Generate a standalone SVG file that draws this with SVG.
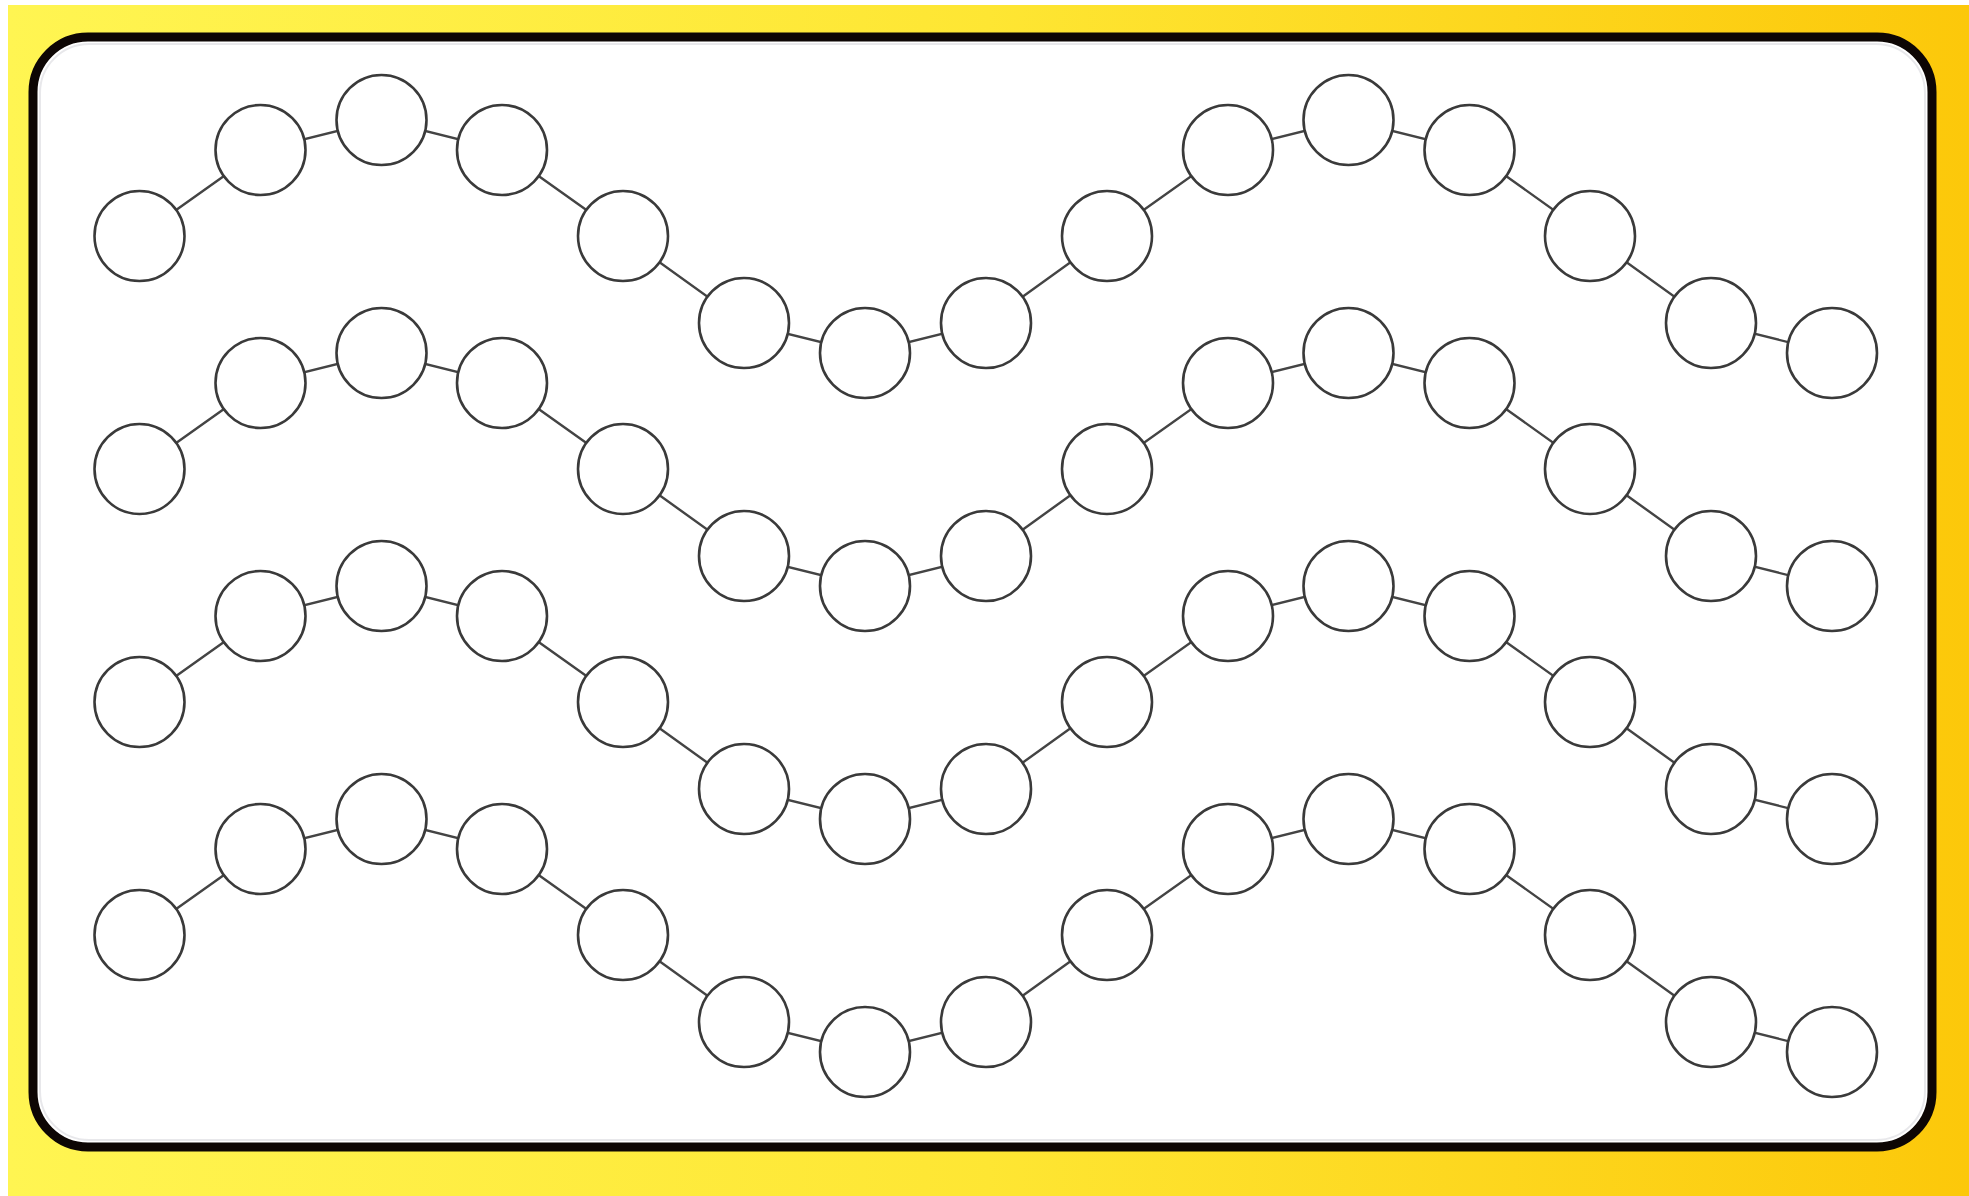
<svg xmlns="http://www.w3.org/2000/svg" width="1969" height="1196" viewBox="0 0 1969 1196">
<defs>
<linearGradient id="bg" x1="0" y1="0" x2="1" y2="0">
<stop offset="0" stop-color="#FFF552"/>
<stop offset="0.5" stop-color="#FEE633"/>
<stop offset="1" stop-color="#FCC80A"/>
</linearGradient>
</defs>
<style>
.n{fill:#fff;stroke:#3a3a3a;stroke-width:2.6}
.c{stroke:#444;stroke-width:2.4;fill:none}
</style>
<rect x="0" y="0" width="1969" height="1196" fill="#fff"/>
<rect x="8" y="5" width="1961" height="1191" fill="url(#bg)"/>
<rect x="33" y="37" width="1899" height="1110" rx="55" ry="55" fill="#fff" stroke="#0d0604" stroke-width="9"/>
<rect x="40" y="44" width="1885" height="1096" rx="49" ry="49" fill="none" stroke="#d8d8de" stroke-width="2" opacity="0.6"/>
<g id="connectors">
<polyline class="c" points="139.5,236 260.5,150 381.5,120 502,150 623,236 744,323 865,353 986,323 1107,236 1228,150 1348.5,120 1469.5,150 1590,236 1711,323 1832,353"/>
<polyline class="c" points="139.5,469 260.5,383 381.5,353 502,383 623,469 744,556 865,586 986,556 1107,469 1228,383 1348.5,353 1469.5,383 1590,469 1711,556 1832,586"/>
<polyline class="c" points="139.5,702 260.5,616 381.5,586 502,616 623,702 744,789 865,819 986,789 1107,702 1228,616 1348.5,586 1469.5,616 1590,702 1711,789 1832,819"/>
<polyline class="c" points="139.5,935 260.5,849 381.5,819 502,849 623,935 744,1022 865,1052 986,1022 1107,935 1228,849 1348.5,819 1469.5,849 1590,935 1711,1022 1832,1052"/>
</g>
<g id="row1">
<g id="n1-1"><circle class="n" cx="139.5" cy="236" r="45"/></g>
<g id="n1-2"><circle class="n" cx="260.5" cy="150" r="45"/></g>
<g id="n1-3"><circle class="n" cx="381.5" cy="120" r="45"/></g>
<g id="n1-4"><circle class="n" cx="502" cy="150" r="45"/></g>
<g id="n1-5"><circle class="n" cx="623" cy="236" r="45"/></g>
<g id="n1-6"><circle class="n" cx="744" cy="323" r="45"/></g>
<g id="n1-7"><circle class="n" cx="865" cy="353" r="45"/></g>
<g id="n1-8"><circle class="n" cx="986" cy="323" r="45"/></g>
<g id="n1-9"><circle class="n" cx="1107" cy="236" r="45"/></g>
<g id="n1-10"><circle class="n" cx="1228" cy="150" r="45"/></g>
<g id="n1-11"><circle class="n" cx="1348.5" cy="120" r="45"/></g>
<g id="n1-12"><circle class="n" cx="1469.5" cy="150" r="45"/></g>
<g id="n1-13"><circle class="n" cx="1590" cy="236" r="45"/></g>
<g id="n1-14"><circle class="n" cx="1711" cy="323" r="45"/></g>
<g id="n1-15"><circle class="n" cx="1832" cy="353" r="45"/></g>
</g>
<g id="row2">
<g id="n2-1"><circle class="n" cx="139.5" cy="469" r="45"/></g>
<g id="n2-2"><circle class="n" cx="260.5" cy="383" r="45"/></g>
<g id="n2-3"><circle class="n" cx="381.5" cy="353" r="45"/></g>
<g id="n2-4"><circle class="n" cx="502" cy="383" r="45"/></g>
<g id="n2-5"><circle class="n" cx="623" cy="469" r="45"/></g>
<g id="n2-6"><circle class="n" cx="744" cy="556" r="45"/></g>
<g id="n2-7"><circle class="n" cx="865" cy="586" r="45"/></g>
<g id="n2-8"><circle class="n" cx="986" cy="556" r="45"/></g>
<g id="n2-9"><circle class="n" cx="1107" cy="469" r="45"/></g>
<g id="n2-10"><circle class="n" cx="1228" cy="383" r="45"/></g>
<g id="n2-11"><circle class="n" cx="1348.5" cy="353" r="45"/></g>
<g id="n2-12"><circle class="n" cx="1469.5" cy="383" r="45"/></g>
<g id="n2-13"><circle class="n" cx="1590" cy="469" r="45"/></g>
<g id="n2-14"><circle class="n" cx="1711" cy="556" r="45"/></g>
<g id="n2-15"><circle class="n" cx="1832" cy="586" r="45"/></g>
</g>
<g id="row3">
<g id="n3-1"><circle class="n" cx="139.5" cy="702" r="45"/></g>
<g id="n3-2"><circle class="n" cx="260.5" cy="616" r="45"/></g>
<g id="n3-3"><circle class="n" cx="381.5" cy="586" r="45"/></g>
<g id="n3-4"><circle class="n" cx="502" cy="616" r="45"/></g>
<g id="n3-5"><circle class="n" cx="623" cy="702" r="45"/></g>
<g id="n3-6"><circle class="n" cx="744" cy="789" r="45"/></g>
<g id="n3-7"><circle class="n" cx="865" cy="819" r="45"/></g>
<g id="n3-8"><circle class="n" cx="986" cy="789" r="45"/></g>
<g id="n3-9"><circle class="n" cx="1107" cy="702" r="45"/></g>
<g id="n3-10"><circle class="n" cx="1228" cy="616" r="45"/></g>
<g id="n3-11"><circle class="n" cx="1348.5" cy="586" r="45"/></g>
<g id="n3-12"><circle class="n" cx="1469.5" cy="616" r="45"/></g>
<g id="n3-13"><circle class="n" cx="1590" cy="702" r="45"/></g>
<g id="n3-14"><circle class="n" cx="1711" cy="789" r="45"/></g>
<g id="n3-15"><circle class="n" cx="1832" cy="819" r="45"/></g>
</g>
<g id="row4">
<g id="n4-1"><circle class="n" cx="139.5" cy="935" r="45"/></g>
<g id="n4-2"><circle class="n" cx="260.5" cy="849" r="45"/></g>
<g id="n4-3"><circle class="n" cx="381.5" cy="819" r="45"/></g>
<g id="n4-4"><circle class="n" cx="502" cy="849" r="45"/></g>
<g id="n4-5"><circle class="n" cx="623" cy="935" r="45"/></g>
<g id="n4-6"><circle class="n" cx="744" cy="1022" r="45"/></g>
<g id="n4-7"><circle class="n" cx="865" cy="1052" r="45"/></g>
<g id="n4-8"><circle class="n" cx="986" cy="1022" r="45"/></g>
<g id="n4-9"><circle class="n" cx="1107" cy="935" r="45"/></g>
<g id="n4-10"><circle class="n" cx="1228" cy="849" r="45"/></g>
<g id="n4-11"><circle class="n" cx="1348.5" cy="819" r="45"/></g>
<g id="n4-12"><circle class="n" cx="1469.5" cy="849" r="45"/></g>
<g id="n4-13"><circle class="n" cx="1590" cy="935" r="45"/></g>
<g id="n4-14"><circle class="n" cx="1711" cy="1022" r="45"/></g>
<g id="n4-15"><circle class="n" cx="1832" cy="1052" r="45"/></g>
</g>
</svg>
